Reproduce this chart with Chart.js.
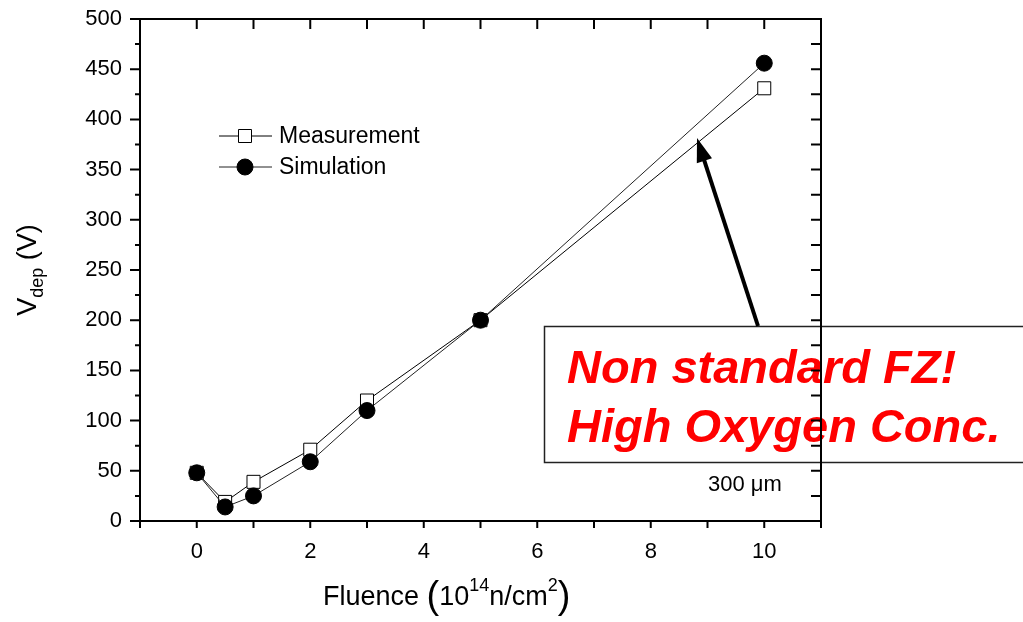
<!DOCTYPE html>
<html>
<head>
<meta charset="UTF-8">
<script src="https://cdn.jsdelivr.net/npm/chart.js@4.4.0/dist/chart.umd.min.js"></script>
<style>
	body { margin: 0; background: #fff; }
	canvas { display: block; }
</style>
</head>
<body>
<canvas id="vdepChart" width="1023" height="622"></canvas>
<script>
	// values
	var fluence = [0, 0.5, 1, 2, 3, 5, 10];
	var measurement = [48, 19, 39, 71, 120, 200, 431];
	var simulation = [48, 14, 25, 59, 110, 200, 456];
	var xTicks = [0, 2, 4, 6, 8, 10];
	var seriesNames = ['Measurement', 'Simulation'];

	function toPoints(xs, ys) {
		return xs.map(function (x, i) { return { x: x, y: ys[i] }; });
	}

	var FONT = '"Liberation Sans", Arial, sans-serif';

	// box, red text, frame, ticks, arrow, legend, titles
	var decor = {
		id: 'decor',
		beforeDatasetsDraw: function (chart) {
			var ctx = chart.ctx;
			ctx.save();
			ctx.fillStyle = '#fff';
			ctx.fillRect(544.5, 326.5, 500, 136);
			ctx.strokeStyle = '#222';
			ctx.lineWidth = 1.5;
			ctx.strokeRect(544.5, 326.5, 500, 136);

			ctx.fillStyle = '#ff0000';
			ctx.font = 'italic bold 47px ' + FONT;
			ctx.textBaseline = 'alphabetic';
			ctx.fillText('Non standard FZ!', 567, 383);
			ctx.fillText('High Oxygen Conc.', 567, 442);

			ctx.fillStyle = '#000';
			ctx.font = '22px ' + FONT;
			ctx.fillText('300 \u03bcm', 708, 491);
			ctx.restore();
		},
		afterDatasetsDraw: function (chart) {
			var ctx = chart.ctx;
			var a = chart.chartArea;
			var xs = chart.scales.x, ys = chart.scales.y;
			ctx.save();
			ctx.strokeStyle = '#000';
			ctx.lineWidth = 2;
			ctx.strokeRect(a.left, a.top, a.right - a.left, a.bottom - a.top);

			ctx.beginPath();
			// x ticks every integer: bottom outward, top inward
			for (var v = -1; v <= 11; v++) {
				var px = xs.getPixelForValue(v);
				ctx.moveTo(px, a.bottom);
				ctx.lineTo(px, a.bottom + 7);
				ctx.moveTo(px, a.top);
				ctx.lineTo(px, a.top + 10);
			}
			// y ticks every 25: left outward, right inward
			for (var w = 0; w <= 500; w += 25) {
				var py = ys.getPixelForValue(w);
				var len = (w % 50 === 0) ? 10 : 5;
				ctx.moveTo(a.left, py);
				ctx.lineTo(a.left - len, py);
				ctx.moveTo(a.right, py);
				ctx.lineTo(a.right - 10, py);
			}
			ctx.stroke();
			ctx.restore();
		},
		afterDraw: function (chart) {
			var ctx = chart.ctx;
			ctx.save();

			// arrow
			var x0 = 758, y0 = 326, x1 = 697, y1 = 138;
			var ang = Math.atan2(y1 - y0, x1 - x0);
			var headLen = 24, headW = 8;
			var bx = x1 - headLen * Math.cos(ang), by = y1 - headLen * Math.sin(ang);
			ctx.strokeStyle = '#000';
			ctx.lineWidth = 4;
			ctx.beginPath();
			ctx.moveTo(x0, y0);
			ctx.lineTo(bx + 4 * Math.cos(ang), by + 4 * Math.sin(ang));
			ctx.stroke();
			ctx.fillStyle = '#000';
			ctx.beginPath();
			ctx.moveTo(x1, y1);
			ctx.lineTo(bx + headW * Math.sin(ang), by - headW * Math.cos(ang));
			ctx.lineTo(bx - headW * Math.sin(ang), by + headW * Math.cos(ang));
			ctx.closePath();
			ctx.fill();

			// legend
			var rows = [136, 167];
			ctx.font = '23px ' + FONT;
			ctx.textBaseline = 'middle';
			chart.data.datasets.forEach(function (ds, i) {
				var y = rows[i];
				ctx.strokeStyle = ds.borderColor;
				ctx.lineWidth = 1;
				ctx.beginPath();
				ctx.moveTo(219, y);
				ctx.lineTo(272, y);
				ctx.stroke();
				ctx.fillStyle = ds.pointBackgroundColor;
				ctx.strokeStyle = '#000';
				ctx.beginPath();
				if (ds.pointStyle === 'rect') {
					ctx.rect(245 - 6.5, y - 6.5, 13, 13);
				} else {
					ctx.arc(245, y, 8, 0, Math.PI * 2);
				}
				ctx.fill();
				ctx.stroke();
				ctx.fillStyle = '#000';
				ctx.fillText(ds.label, 279, y + 1);
			});

			// y title
			ctx.save();
			ctx.translate(36, 270);
			ctx.rotate(-Math.PI / 2);
			ctx.textBaseline = 'alphabetic';
			var big = '27px ' + FONT, small = '18px ' + FONT;
			ctx.font = big;
			var wV = ctx.measureText('V').width;
			ctx.font = small;
			var wDep = ctx.measureText('dep').width;
			ctx.font = big;
			var wRest = ctx.measureText(' (V)').width;
			var start = -(wV + wDep + wRest) / 2;
			ctx.fillText('V', start, 0);
			ctx.font = small;
			ctx.fillText('dep', start + wV, 7);
			ctx.font = big;
			ctx.fillText(' (V)', start + wV + wDep, 0);
			ctx.restore();

			// x title
			var parts = [
				['Fluence ', big, 0],
				['(', '38px ' + FONT, 3],
				['10', big, 0],
				['14', small, -14],
				['n/cm', big, 0],
				['2', small, -14],
				[')', '38px ' + FONT, 3]
			];
			var x = 323;
			ctx.fillStyle = '#000';
			ctx.textBaseline = 'alphabetic';
			parts.forEach(function (p) {
				ctx.font = p[1];
				ctx.fillText(p[0], x, 605 + p[2]);
				x += ctx.measureText(p[0]).width;
			});

			ctx.restore();
		}
	};

	var ctx = document.getElementById('vdepChart').getContext('2d');
	var myChart = new Chart(ctx, {
		type: 'scatter',
		data: {
			datasets: [{
				label: seriesNames[0],
				data: toPoints(fluence, measurement),
				showLine: true,
				borderColor: '#000',
				borderWidth: 1,
				pointStyle: 'rect',
				pointRadius: 9.2,
				pointBackgroundColor: '#fff',
				pointBorderColor: '#000',
				pointBorderWidth: 1,
				order: 2
			}, {
				label: seriesNames[1],
				data: toPoints(fluence, simulation),
				showLine: true,
				borderColor: '#222',
				borderWidth: 1,
				pointStyle: 'circle',
				pointRadius: 8,
				pointBackgroundColor: '#000',
				pointBorderColor: '#000',
				pointBorderWidth: 1,
				order: 1
			}]
		},
		options: {
			responsive: false,
			animation: false,
			events: [],
			layout: {
				padding: { left: 0, right: 202, top: 19, bottom: 0 }
			},
			plugins: {
				legend: { display: false },
				tooltip: { enabled: false }
			},
			scales: {
				x: {
					type: 'linear',
					min: -1,
					max: 11,
					afterBuildTicks: function (scale) {
						scale.ticks = xTicks.map(function (v) { return { value: v }; });
					},
					afterFit: function (scale) {
						scale.height = 101;
						scale.paddingLeft = 0;
						scale.paddingRight = 0;
					},
					grid: { display: false, drawTicks: false },
					border: { display: false },
					ticks: {
						color: '#000',
						font: { family: FONT, size: 22 },
						padding: 18,
						maxRotation: 0,
						autoSkip: false
					}
				},
				y: {
					min: 0,
					max: 500,
					afterFit: function (scale) {
						scale.width = 140;
						scale.paddingTop = 0;
						scale.paddingBottom = 0;
					},
					grid: { display: false, drawTicks: false },
					border: { display: false },
					ticks: {
						stepSize: 50,
						color: '#000',
						font: { family: FONT, size: 22 },
						padding: 18
					}
				}
			}
		},
		plugins: [decor]
	});
</script>
</body>
</html>
